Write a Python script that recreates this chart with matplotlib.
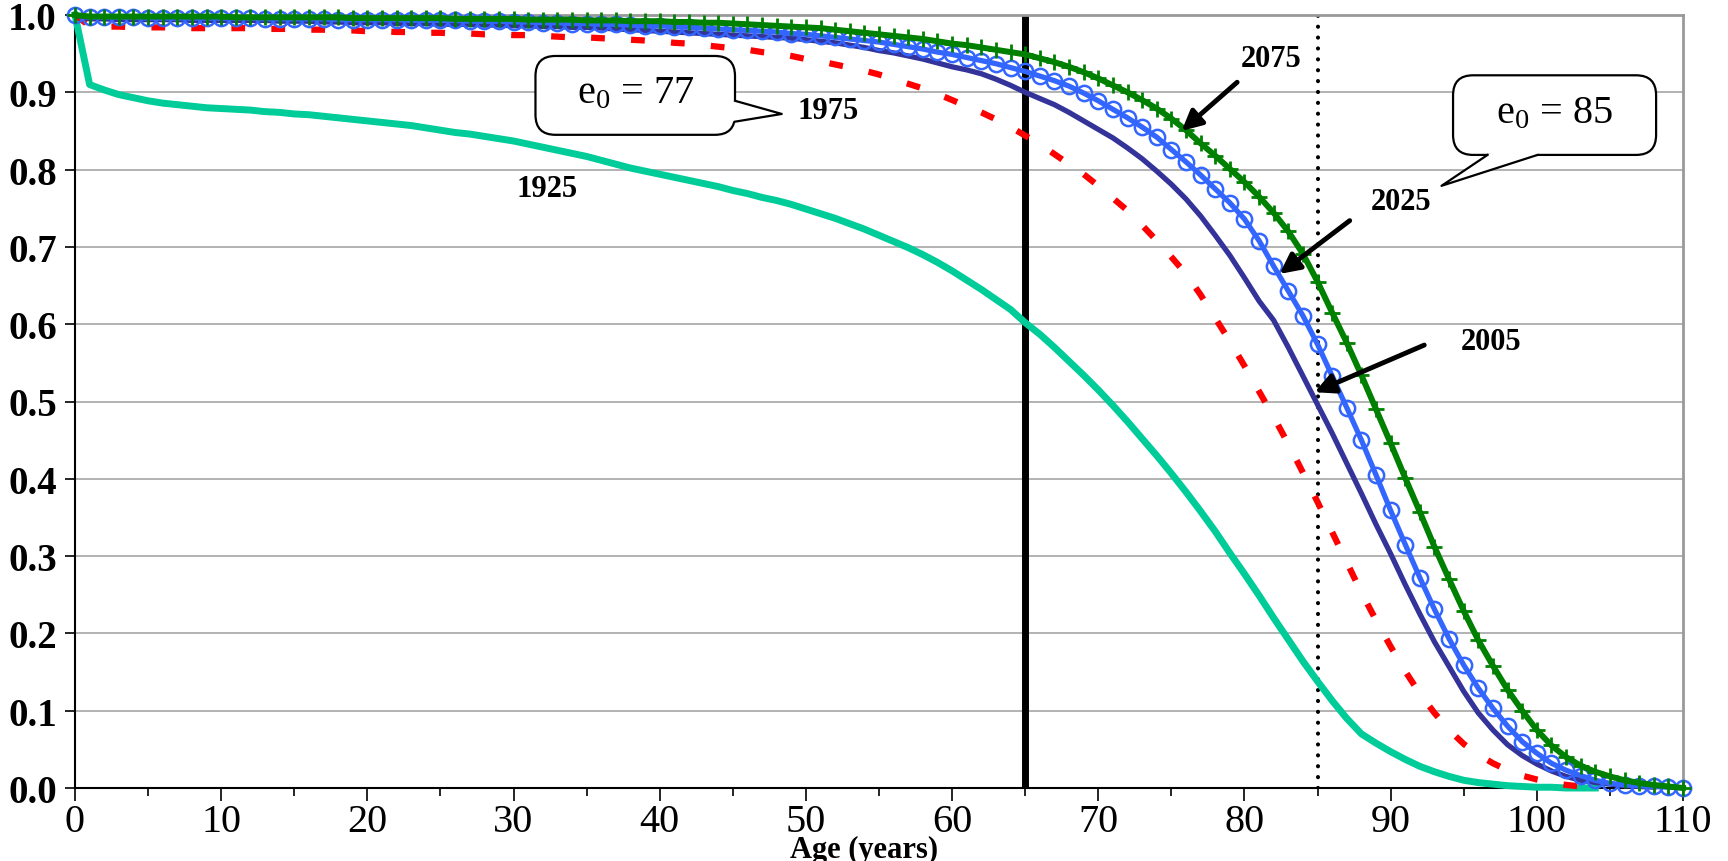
import matplotlib
matplotlib.use('Agg')
import matplotlib.pyplot as plt
import numpy as np
from matplotlib.patches import FancyBboxPatch, Polygon
from matplotlib.lines import Line2D
from matplotlib.transforms import IdentityTransform
from matplotlib.ticker import MultipleLocator, FormatStrFormatter

plt.rcParams['font.family'] = ['Liberation Serif', 'DejaVu Serif']
plt.rcParams['mathtext.default'] = 'regular'

# survival curves, values, one per year of age
s1925 = [1.000, 0.910, 0.903, 0.897, 0.893, 0.889, 0.886, 0.884, 0.882, 0.880,
         0.879, 0.878, 0.877, 0.875, 0.874, 0.872, 0.871, 0.869, 0.867, 0.865,
         0.863, 0.861, 0.859, 0.857, 0.854, 0.851, 0.848, 0.846, 0.843, 0.840,
         0.837, 0.833, 0.829, 0.825, 0.821, 0.817, 0.812, 0.807, 0.802, 0.798,
         0.794, 0.790, 0.786, 0.782, 0.778, 0.773, 0.769, 0.764, 0.760, 0.755,
         0.749, 0.743, 0.737, 0.730, 0.723, 0.715, 0.707, 0.699, 0.690, 0.680,
         0.669, 0.657, 0.645, 0.632, 0.619, 0.602, 0.587, 0.570, 0.552, 0.534,
         0.515, 0.495, 0.474, 0.452, 0.430, 0.407, 0.383, 0.358, 0.332, 0.304,
         0.277, 0.249, 0.220, 0.192, 0.164, 0.138, 0.113, 0.090, 0.070, 0.058,
         0.047, 0.037, 0.028, 0.021, 0.015, 0.010, 0.007, 0.005, 0.003, 0.002,
         0.001, 0.001, 0.000, 0.000, 0.000]

s1975 = [1.000, 0.986, 0.985, 0.985, 0.984, 0.984, 0.984, 0.984, 0.983, 0.983,
         0.983, 0.983, 0.983, 0.982, 0.982, 0.982, 0.981, 0.981, 0.980, 0.980,
         0.979, 0.979, 0.978, 0.978, 0.977, 0.977, 0.976, 0.976, 0.975, 0.975,
         0.974, 0.974, 0.973, 0.972, 0.971, 0.971, 0.970, 0.969, 0.968, 0.967,
         0.966, 0.964, 0.963, 0.961, 0.959, 0.957, 0.955, 0.952, 0.950, 0.947,
         0.943, 0.940, 0.936, 0.932, 0.928, 0.923, 0.917, 0.911, 0.905, 0.898,
         0.890, 0.882, 0.874, 0.865, 0.855, 0.844, 0.833, 0.820, 0.807, 0.794,
         0.779, 0.763, 0.747, 0.728, 0.708, 0.687, 0.665, 0.638, 0.608, 0.578,
         0.546, 0.513, 0.480, 0.445, 0.408, 0.370, 0.331, 0.292, 0.253, 0.217,
         0.183, 0.151, 0.122, 0.097, 0.075, 0.057, 0.043, 0.032, 0.023, 0.016,
         0.011, 0.007, 0.004, 0.002, 0.000]

s2005 = [1.000, 0.995, 0.995, 0.994, 0.994, 0.994, 0.994, 0.994, 0.993, 0.993,
         0.993, 0.993, 0.993, 0.993, 0.992, 0.992, 0.992, 0.991, 0.991, 0.990,
         0.990, 0.990, 0.989, 0.989, 0.989, 0.988, 0.988, 0.988, 0.987, 0.987,
         0.986, 0.986, 0.985, 0.985, 0.984, 0.984, 0.983, 0.982, 0.981, 0.980,
         0.979, 0.978, 0.977, 0.976, 0.975, 0.974, 0.973, 0.972, 0.971, 0.970,
         0.968, 0.966, 0.964, 0.961, 0.958, 0.954, 0.951, 0.947, 0.943, 0.938,
         0.933, 0.929, 0.924, 0.917, 0.909, 0.900, 0.892, 0.884, 0.874, 0.863,
         0.852, 0.841, 0.828, 0.814, 0.798, 0.781, 0.762, 0.740, 0.715, 0.689,
         0.660, 0.630, 0.605, 0.570, 0.533, 0.496, 0.459, 0.420, 0.381, 0.341,
         0.303, 0.263, 0.225, 0.189, 0.157, 0.125, 0.097, 0.075, 0.056, 0.042,
         0.031, 0.022, 0.015, 0.010, 0.007, 0.005, 0.003, 0.002, 0.001]

s2025 = [1.000, 0.997, 0.997, 0.997, 0.997, 0.996, 0.996, 0.996, 0.996, 0.996,
         0.996, 0.996, 0.996, 0.995, 0.995, 0.995, 0.995, 0.995, 0.994, 0.994,
         0.994, 0.994, 0.994, 0.993, 0.993, 0.993, 0.993, 0.992, 0.992, 0.992,
         0.991, 0.991, 0.990, 0.990, 0.989, 0.989, 0.988, 0.988, 0.987, 0.986,
         0.986, 0.985, 0.984, 0.983, 0.982, 0.981, 0.980, 0.979, 0.978, 0.976,
         0.975, 0.973, 0.971, 0.969, 0.967, 0.965, 0.962, 0.959, 0.956, 0.952,
         0.949, 0.945, 0.941, 0.937, 0.932, 0.927, 0.921, 0.915, 0.908, 0.899,
         0.889, 0.878, 0.867, 0.855, 0.842, 0.826, 0.810, 0.793, 0.775, 0.757,
         0.736, 0.708, 0.675, 0.643, 0.611, 0.574, 0.533, 0.492, 0.450, 0.405,
         0.359, 0.315, 0.272, 0.231, 0.193, 0.159, 0.129, 0.103, 0.080, 0.060,
         0.045, 0.032, 0.023, 0.016, 0.010, 0.006, 0.004, 0.003, 0.002, 0.001,
         0.0005]

s2075 = [1.000, 0.998, 0.998, 0.998, 0.998, 0.998, 0.998, 0.998, 0.998, 0.998,
         0.998, 0.997, 0.997, 0.997, 0.997, 0.997, 0.997, 0.997, 0.997, 0.996,
         0.996, 0.996, 0.996, 0.996, 0.996, 0.996, 0.995, 0.995, 0.995, 0.995,
         0.995, 0.994, 0.994, 0.994, 0.994, 0.993, 0.993, 0.993, 0.992, 0.992,
         0.992, 0.991, 0.991, 0.990, 0.990, 0.989, 0.988, 0.987, 0.986, 0.985,
         0.984, 0.983, 0.981, 0.979, 0.977, 0.975, 0.973, 0.971, 0.969, 0.966,
         0.963, 0.961, 0.958, 0.955, 0.952, 0.949, 0.944, 0.939, 0.933, 0.926,
         0.918, 0.909, 0.900, 0.890, 0.879, 0.866, 0.851, 0.834, 0.818, 0.801,
         0.784, 0.765, 0.744, 0.720, 0.691, 0.655, 0.615, 0.576, 0.534, 0.490,
         0.446, 0.401, 0.357, 0.312, 0.270, 0.229, 0.191, 0.158, 0.127, 0.100,
         0.075, 0.055, 0.040, 0.029, 0.021, 0.015, 0.010, 0.0065, 0.004, 0.002,
         0.000]

xticks = [0, 10, 20, 30, 40, 50, 60, 70, 80, 90, 100, 110]
yticks = [0.0, 0.1, 0.2, 0.3, 0.4, 0.5, 0.6, 0.7, 0.8, 0.9, 1.0]
retire_age = 65
e0_age = 85

fig = plt.figure(figsize=(17.28, 8.62), dpi=100)
ax = fig.add_axes([75/1728, 73/862, 1608/1728, 773/862])

ax.set_xlim(0, 110)
ax.set_ylim(0, 1.0)
ax.set_yticks(yticks)
ax.set_xticks(xticks)
ax.xaxis.set_minor_locator(MultipleLocator(5))
ax.yaxis.set_major_formatter(FormatStrFormatter('%.1f'))
ax.grid(axis='y', color='#a6a6a6', lw=1.2, zorder=0)
ax.set_axisbelow(True)

for s in ['top', 'right']:
    ax.spines[s].set_color('#999999')
    ax.spines[s].set_linewidth(2)
for s in ['left', 'bottom']:
    ax.spines[s].set_color('black')
    ax.spines[s].set_linewidth(1.5)

ax.tick_params(axis='y', direction='out', length=7, width=1.2, pad=6, labelsize=28)
ax.tick_params(axis='x', which='major', direction='out', length=9, width=1.2, pad=2, labelsize=29)
ax.tick_params(axis='x', which='minor', direction='out', length=6, width=1.2)
for lbl in ax.get_yticklabels():
    lbl.set_fontweight('bold')

ax.set_xlabel('Age (years)', fontsize=22, fontweight='bold', va='center')
ax.xaxis.set_label_coords(0.491, -0.079)

# reference lines
ax.axvline(retire_age, color='black', lw=5, zorder=2)
ax.axvline(e0_age, color='black', lw=3.0, ls=(0, (0.01, 2.6)), dash_capstyle='round', zorder=2)

a1925 = np.arange(len(s1925))
a1975 = np.arange(len(s1975))
a2005 = np.arange(len(s2005))
a2025 = np.arange(len(s2025))
a2075 = np.arange(len(s2075))

ax.plot(a1925, s1925, color='#00cc99', lw=5, zorder=3, clip_on=False)
ax.plot(a1975, s1975, color='#ff0000', lw=4.5, ls=(0, (2.2, 4.2)), zorder=3, clip_on=False)
ax.plot(a2005, s2005, color='#333399', lw=3.8, zorder=4, clip_on=False)
ax.plot(a2025, s2025, color='#3366ff', lw=3.8, marker='o', ms=11, mfc='none',
        mec='#3366ff', mew=1.8, zorder=5, clip_on=False)
ax.plot(a2075, s2075, color='#008000', lw=4.3, marker='+', ms=12, mew=2,
        zorder=6, clip_on=False)

# year labels and arrows
lab = dict(fontsize=22, fontweight='bold', ha='center', va='center', zorder=10)
ax.text(32.3, 0.775, '1925', **lab)
ax.text(51.5, 0.877, '1975', **lab)
ax.text(81.8, 0.944, '2075', **lab)
ax.text(90.7, 0.759, '2025', **lab)
ax.text(96.9, 0.577, '2005', **lab)

arw = dict(arrowstyle='-|>', color='black', lw=3.5, mutation_scale=30, shrinkA=0, shrinkB=0)
ax.annotate('', xy=(75.7, 0.850), xytext=(79.5, 0.913), arrowprops=arw, zorder=9)
ax.annotate('', xy=(82.4, 0.665), xytext=(87.2, 0.734), arrowprops=arw, zorder=9)
ax.annotate('', xy=(84.8, 0.512), xytext=(92.3, 0.573), arrowprops=arw, zorder=9)


def callout(box, b1, b2, tip, txt):
    T = ax.transData
    x0, y0 = T.transform((box[0], box[1]))
    x1, y1 = T.transform((box[2], box[3]))
    bb = FancyBboxPatch((x0, y0), x1 - x0, y1 - y0,
                        boxstyle='round,pad=0,rounding_size=20',
                        fc='white', ec='black', lw=1.6,
                        transform=IdentityTransform(), zorder=11, clip_on=False)
    ax.add_patch(bb)
    p1 = T.transform(b1)
    p2 = T.transform(b2)
    pt = T.transform(tip)
    cx, cy = (x0 + x1) / 2, (y0 + y1) / 2
    i1 = p1 + (np.array([cx, cy]) - p1) * 0.05
    i2 = p2 + (np.array([cx, cy]) - p2) * 0.05
    poly = Polygon([i1, p1, pt, p2, i2], closed=True, fc='white', ec='none',
                   transform=IdentityTransform(), zorder=12, clip_on=False)
    ax.add_patch(poly)
    ln = Line2D([p1[0], pt[0], p2[0]], [p1[1], pt[1], p2[1]], color='black',
                lw=1.6, transform=IdentityTransform(), zorder=13, clip_on=False)
    ax.add_line(ln)
    ax.text((box[0] + box[2]) / 2, (box[1] + box[3]) / 2 + 0.003, txt,
            fontsize=29, ha='center', va='center', zorder=14)


callout((31.5, 0.845, 45.15, 0.947), (45.15, 0.889), (45.15, 0.862), (48.35, 0.872),
        r'e$_0$ = 77')
callout((94.27, 0.819, 108.16, 0.922), (96.63, 0.819), (100.05, 0.819), (93.48, 0.779),
        r'e$_0$ = 85')

fig.savefig('out.png', dpi=100)
